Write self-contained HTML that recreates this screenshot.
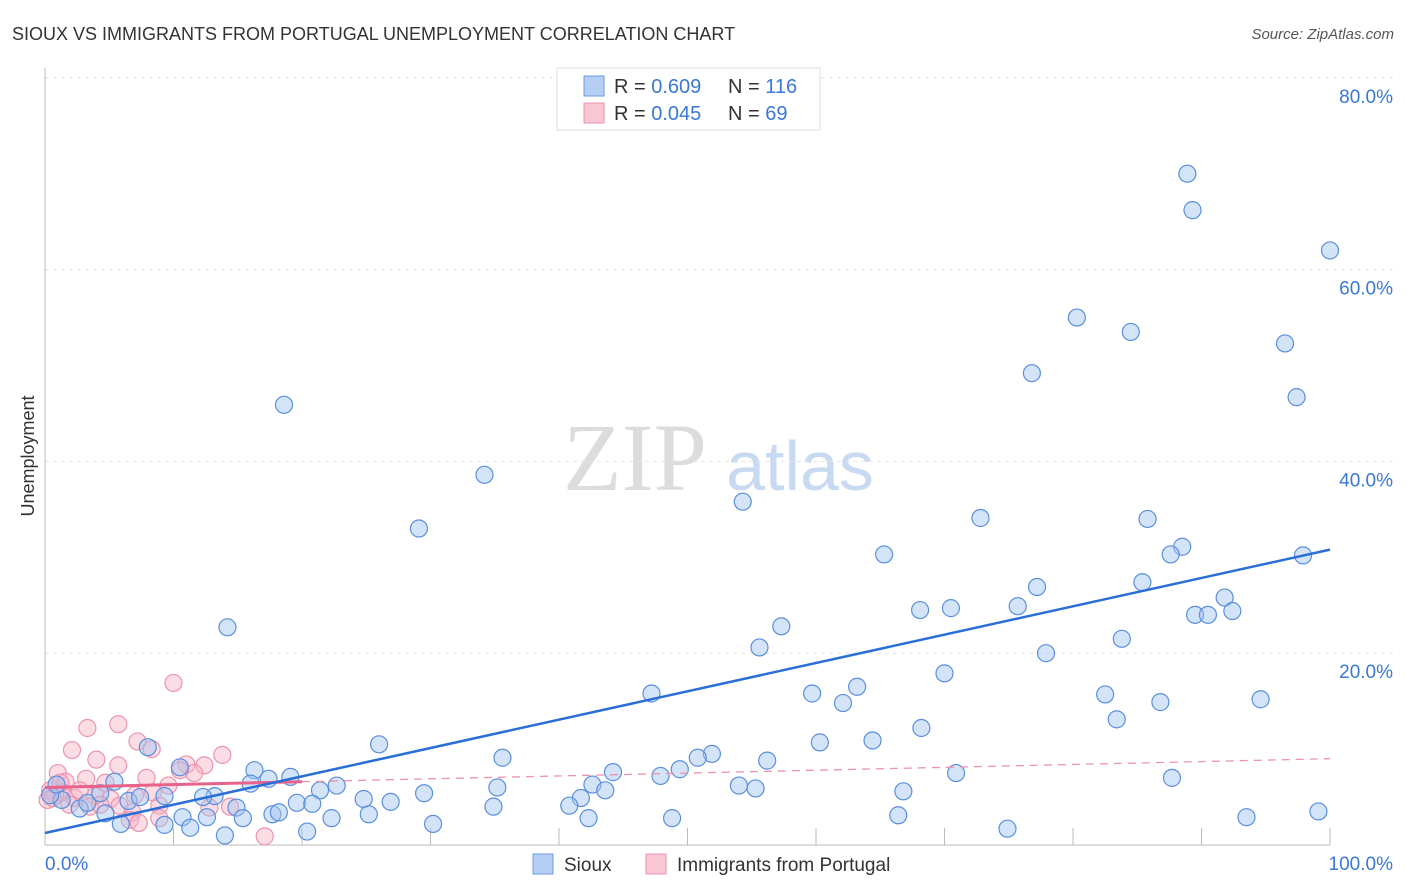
<!DOCTYPE html>
<html><head><meta charset="utf-8"><style>
body{margin:0;background:#fff;font-family:"Liberation Sans",sans-serif;}
#wrap{position:relative;width:1406px;height:892px;overflow:hidden;}
</style></head><body>
<div id="wrap">
<svg id="chart" width="1406" height="892">
<text x="12" y="40" font-size="18" fill="#333">SIOUX VS IMMIGRANTS FROM PORTUGAL UNEMPLOYMENT CORRELATION CHART</text>
<text x="1394" y="39" font-size="15" fill="#555" font-style="italic" text-anchor="end">Source: ZipAtlas.com</text>
<text x="635" y="490" font-size="96" fill="#dcdcdc" font-family="Liberation Serif" text-anchor="middle">ZIP</text>
<text x="800" y="490" font-size="70" fill="#c8daf2" text-anchor="middle">atlas</text>
<text transform="translate(34,456) rotate(-90)" font-size="18" fill="#333" text-anchor="middle">Unemployment</text>
<g id="grid"></g><g id="pts"></g><g id="lines"></g>
<g>
<rect x="557" y="68" width="263" height="62" fill="#fff" stroke="#ddd"/>
<rect x="584" y="76" width="20" height="20" fill="#b4cff3" stroke="#6b9be0"/>
<rect x="584" y="103" width="20" height="20" fill="#f9c6d4" stroke="#ec93ad"/>
<text x="614" y="93" font-size="20" fill="#333">R = <tspan fill="#3a78d8">0.609</tspan><tspan x="728">N = </tspan><tspan fill="#3a78d8"> 116</tspan></text>
<text x="614" y="120" font-size="20" fill="#333">R = <tspan fill="#3a78d8">0.045</tspan><tspan x="728">N = </tspan><tspan fill="#3a78d8">  69</tspan></text>
</g>
<g>
<rect x="533" y="854" width="20" height="20" fill="#b4cff3" stroke="#6b9be0"/>
<text x="564" y="871" font-size="19" fill="#333">Sioux</text>
<rect x="646" y="854" width="20" height="20" fill="#f9c6d4" stroke="#ec93ad"/>
<text x="677" y="871" font-size="19" fill="#333">Immigrants from Portugal</text>
</g>
</svg>
</div>
<script>
const yTicks=[20,40,60,80];
const yTickLabels=["20.0%","40.0%","60.0%","80.0%"];
const xTickLabels=["0.0%","100.0%"];
const siouxX=[88.9,89.3,100,80.3,84.5,96.5,76.8,97.4,18.6,34.2,54.3,29.1,72.8,85.8,88.5,87.6,65.3,97.9,85.4,77.2,91.8,75.7,70.5,68.1,89.5,90.5,92.4,14.2,57.3,55.6,77.9,83.8,70.0,63.2,59.7,47.2,82.5,62.1,86.8,94.6,83.4,68.2,64.4,60.3,26.0,8.0,51.9,50.8,35.6,56.2,10.5,16.3,44.2,70.9,49.4,47.9,19.1,17.4,87.7,22.7,16.0,21.4,35.2,42.6,54.0,55.3,66.8,29.5,43.6,13.2,24.8,26.9,41.7,19.6,20.8,14.9,34.9,40.8,6.5,7.4,9.3,4.7,2.7,3.3,1.3,0.4,15.4,17.7,18.2,10.7,12.6,25.2,42.3,48.8,66.4,93.5,99.1,22.3,5.9,9.3,11.3,14.0,20.4,30.2,74.9,4.3,0.9,5.4,12.3];
const siouxY=[70.0,66.2,62.0,55.0,53.5,52.3,49.2,46.7,45.9,38.6,35.8,33.0,34.1,34.0,31.1,30.3,30.3,30.2,27.4,26.9,25.8,24.9,24.7,24.5,24.0,24.0,24.4,22.7,22.8,20.6,20.0,21.5,17.9,16.5,15.8,15.8,15.7,14.8,14.9,15.2,13.1,12.2,10.9,10.7,10.5,10.2,9.5,9.1,9.1,8.8,8.1,7.8,7.6,7.5,7.9,7.2,7.1,6.9,7.0,6.2,6.4,5.7,6.0,6.3,6.2,5.9,5.6,5.4,5.7,5.1,4.8,4.5,4.9,4.4,4.3,3.9,4.0,4.1,4.6,5.0,5.1,3.3,3.8,4.4,4.7,5.2,2.8,3.2,3.4,2.9,2.9,3.2,2.8,2.8,3.1,2.9,3.5,2.8,2.2,2.1,1.8,1.0,1.4,2.2,1.7,5.4,6.3,6.6,5.0];
const portX=[10.0,5.7,3.3,7.2,8.3,2.1,13.8,4.0,11.0,12.4,5.7,11.6,1.0,3.2,7.9,1.6,4.7,9.6,0.4,0.8,1.3,2.3,3.9,5.1,7.0,8.4,0.2,3.5,5.8,8.9,14.4,6.8,6.6,7.3,17.1,1.2,2.7,4.3,1.9,0.6,8.9,12.8,10.5];
const portY=[16.9,12.6,12.2,10.8,10.0,9.9,9.4,8.9,8.4,8.3,8.3,7.5,7.5,6.9,7.0,6.6,6.5,6.2,5.7,5.2,5.5,4.9,5.1,4.8,5.2,5.5,4.7,4.0,4.1,4.1,4.0,3.4,2.6,2.3,0.9,6.5,5.7,4.2,4.2,4.9,2.8,3.9,7.8];
const siouxTrend=[1.25,30.8];
const portTrend=[6.0,9.0];
const portSolidEnd=20;
const X=v=>45+v*12.85, Y=v=>845-v*9.59;
const NS="http://www.w3.org/2000/svg";
function mk(t,a,p){const e=document.createElementNS(NS,t);for(const k in a)e.setAttribute(k,a[k]);p.appendChild(e);return e;}
const grid=document.getElementById('grid');
yTicks.forEach((t,i)=>{
  const l=mk('line',{x1:45,x2:1395,y1:Y(t),y2:Y(t),stroke:'#e4e4e4','stroke-dasharray':'4,4'},grid);
  
  
  const tx=mk('text',{x:1393,y:Y(t)+25,'font-size':19,fill:'#3a78d8','text-anchor':'end'},grid);
  tx.textContent=yTickLabels[i];
  
  
});
const ax=mk('line',{x1:45,x2:45,y1:68,y2:845,stroke:'#bbb'},grid);


const bx=mk('line',{x1:45,x2:1330,y1:845,y2:845,stroke:'#bbb'},grid);


for(let i=1;i<=10;i++){const t=mk('line',{x1:X(i*10),x2:X(i*10),y1:828,y2:845,stroke:'#bbb'},grid);
  
  }
[[0,'start',45],[100,'end',1393]].forEach((d,i)=>{const t=mk('text',{x:d[2],y:870,'font-size':19,fill:'#3a78d8','text-anchor':d[1]},grid);t.textContent=xTickLabels[i];
  
  });
const pts=document.getElementById('pts');
portX.forEach((x,i)=>{const c=mk('circle',{cx:X(x),cy:Y(portY[i]),r:8.5,fill:'rgba(248,180,200,0.45)',stroke:'#ec93ad','stroke-width':1.2},pts);
  
  });
siouxX.forEach((x,i)=>{const c=mk('circle',{cx:X(x),cy:Y(siouxY[i]),r:8.5,fill:'rgba(160,196,240,0.45)',stroke:'#5b8fdc','stroke-width':1.2},pts);
  
  });
const lines=document.getElementById('lines');
const pv=x=>portTrend[0]+(portTrend[1]-portTrend[0])*x/100;
const l1=mk('line',{x1:X(portSolidEnd),y1:Y(pv(portSolidEnd)),x2:X(100),y2:Y(pv(100)),stroke:'#ec93ad','stroke-width':1.3,'stroke-dasharray':'8,6'},lines);


const l2=mk('line',{x1:X(0),y1:Y(pv(0)),x2:X(portSolidEnd),y2:Y(pv(portSolidEnd)),stroke:'#e8628a','stroke-width':3},lines);


const l3=mk('line',{x1:X(0),y1:Y(siouxTrend[0]),x2:X(100),y2:Y(siouxTrend[1]),stroke:'#2a6fd6','stroke-width':2.5},lines);


</script>
</body></html>
